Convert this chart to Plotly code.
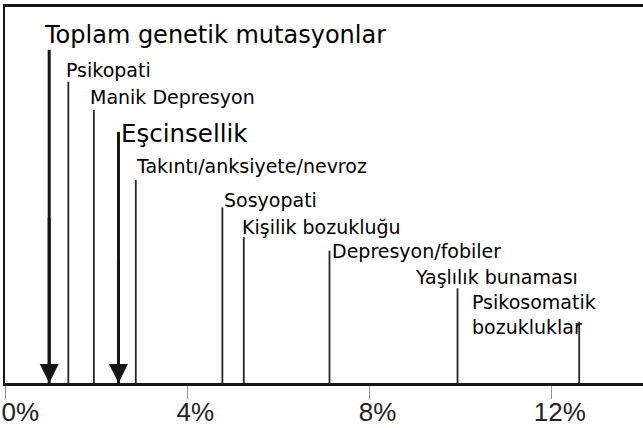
import plotly.graph_objects as go

# ---------------- data ----------------
categories = [
    "Toplam genetik mutasyonlar",
    "Psikopati",
    "Manik Depresyon",
    "Eşcinsellik",
    "Takıntı/anksiyete/nevroz",
    "Sosyopati",
    "Kişilik bozukluğu",
    "Depresyon/fobiler",
    "Yaşlılık bunaması",
    "Psikosomatik<br>bozukluklar",
]
values = [0.97, 1.39, 1.95, 2.49, 2.87, 4.77, 5.24, 7.12, 9.93, 12.60]  # percent
highlighted = [True, False, False, True, False, False, False, False, False, False]

tick_values = [0, 4, 8, 12]
tick_labels = ["\u00a0\u00a00%", "4%", "8%", "12%"]

# ---------------- layout / style ----------------
line_tops = [0.886, 0.801, 0.726, 0.668, 0.540, 0.467, 0.388, 0.352, 0.252, 0.163]
label_dx = [-7, -4.5, -6, 0.5, -2.2, -0.3, -3.6, 1, -45, -109.5]
label_dy = [15.3, 12.3, 12.6, -1.5, 13.9, 7.9, 9.9, 0, 10.9, 7.1]
label_size = [24, 19, 19, 24.5, 19, 19, 19, 19, 19, 19]
INK = "#161616"
TEXT_FONT = "DejaVu Sans"

fig = go.Figure()

# thin vertical lines
xs, ys = [], []
for v, top, h in zip(values, line_tops, highlighted):
    if not h:
        xs += [v, v, None]
        ys += [0, top, None]
fig.add_trace(go.Scatter(x=xs, y=ys, mode="lines",
                         line=dict(color="#262626", width=1.8),
                         hoverinfo="skip", cliponaxis=False))

# thick arrow shafts
xs, ys = [], []
for v, top, h in zip(values, line_tops, highlighted):
    if h:
        xs += [v, v, None]
        ys += [0, top, None]
fig.add_trace(go.Scatter(x=xs, y=ys, mode="lines",
                         line=dict(color=INK, width=3),
                         hoverinfo="skip", cliponaxis=False))

annotations = []
for cat, v, top, h, dx, dy, fs in zip(categories, values, line_tops, highlighted,
                                      label_dx, label_dy, label_size):
    annotations.append(dict(
        x=v, y=top, xref="x", yref="y", text=cat, showarrow=False,
        xanchor="left", yanchor="middle", align="left",
        xshift=dx, yshift=dy,
        font=dict(family=TEXT_FONT, size=fs, color="#000"),
    ))
    if h:
        annotations.append(dict(
            x=v, y=0, xref="x", yref="y", ax=v, ay=top * 0.5,
            axref="x", ayref="y", text="", showarrow=True,
            arrowhead=2, arrowsize=1.27, arrowwidth=3, arrowcolor=INK,
            standoff=0,
        ))

fig.update_layout(
    width=643, height=428,
    margin=dict(l=5, r=0, t=7, b=45, autoexpand=False),
    plot_bgcolor="white", paper_bgcolor="white",
    showlegend=False,
    annotations=annotations,
    xaxis=dict(
        range=[0, 14], showgrid=False, zeroline=False, automargin=False,
        showline=True, linecolor=INK, linewidth=2.5, mirror=True,
        ticks="outside", ticklen=13, tickwidth=1, tickcolor="#999",
        tickvals=tick_values, ticktext=tick_labels,
        tickfont=dict(family="Liberation Sans", size=26, color="#222"),
        ticklabelshift=8, ticklabelstandoff=-9, ticklabeloverflow="allow",
    ),
    yaxis=dict(
        range=[0, 1], showgrid=False, zeroline=False, automargin=False,
        showline=True, linecolor=INK, linewidth=2,
        showticklabels=False, ticks="",
    ),
)

fig.write_html(
    "out.html",
    config={"displayModeBar": False},
    post_script="document.body.style.margin='0px';document.body.style.overflow='hidden';",
)
